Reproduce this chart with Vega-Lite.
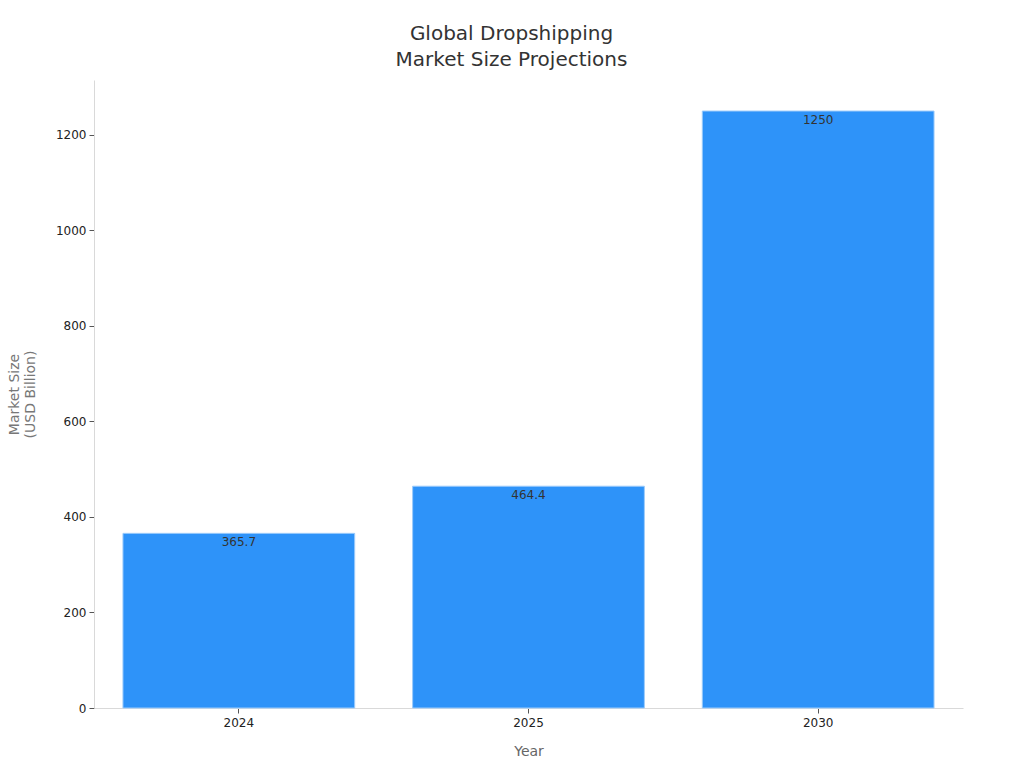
{
  "$schema": "https://vega.github.io/schema/vega-lite/v6.json",
  "width": 869,
  "height": 628,
  "autosize": {"type": "none"},
  "padding": {"left": 94, "top": 80, "right": 61, "bottom": 60},
  "background": "white",
  "config": {
    "font": "DejaVu Sans",
    "view": {"stroke": null}
  },
  "title": {
    "text": ["Global Dropshipping", "Market Size Projections"],
    "fontSize": 20,
    "fontWeight": "normal",
    "color": "#333333",
    "font": "DejaVu Sans",
    "lineHeight": 26,
    "offset": 10,
    "dx": -17
  },
  "data": {
    "values": [
      {"Year": "2024", "Size": 365.7},
      {"Year": "2025", "Size": 464.4},
      {"Year": "2030", "Size": 1250}
    ]
  },
  "encoding": {
    "x": {
      "field": "Year",
      "type": "ordinal",
      "sort": null,
      "scale": {"paddingInner": 0.2, "paddingOuter": 0.1},
      "axis": {
        "title": "Year",
        "labelAngle": 0,
        "labelFontSize": 12,
        "labelColor": "#222222",
        "titleFontSize": 14,
        "titleFontWeight": "normal",
        "titleColor": "#666666",
        "titlePadding": 16,
        "domainColor": "#d9d9d9",
        "tickColor": "#555555",
        "tickSize": 5,
        "labelPadding": 4
      }
    },
    "y": {
      "field": "Size",
      "type": "quantitative",
      "scale": {"domain": [0, 1315], "nice": false},
      "axis": {
        "title": ["Market Size", "(USD Billion)"],
        "values": [0, 200, 400, 600, 800, 1000, 1200],
        "format": "d",
        "grid": false,
        "labelFontSize": 12,
        "labelColor": "#222222",
        "titleFontSize": 14,
        "titleFontWeight": "normal",
        "titleColor": "#777777",
        "titlePadding": 18,
        "titleLineHeight": 16,
        "domainColor": "#d9d9d9",
        "tickColor": "#555555",
        "tickSize": 5,
        "labelPadding": 3
      }
    }
  },
  "layer": [
    {
      "mark": {"type": "bar", "color": "#2E93F9", "stroke": "#9CCBFB", "strokeWidth": 1}
    },
    {
      "mark": {"type": "text", "baseline": "top", "dy": 4, "fontSize": 12, "color": "#333333"},
      "encoding": {"text": {"field": "Size", "type": "quantitative"}}
    }
  ]
}
